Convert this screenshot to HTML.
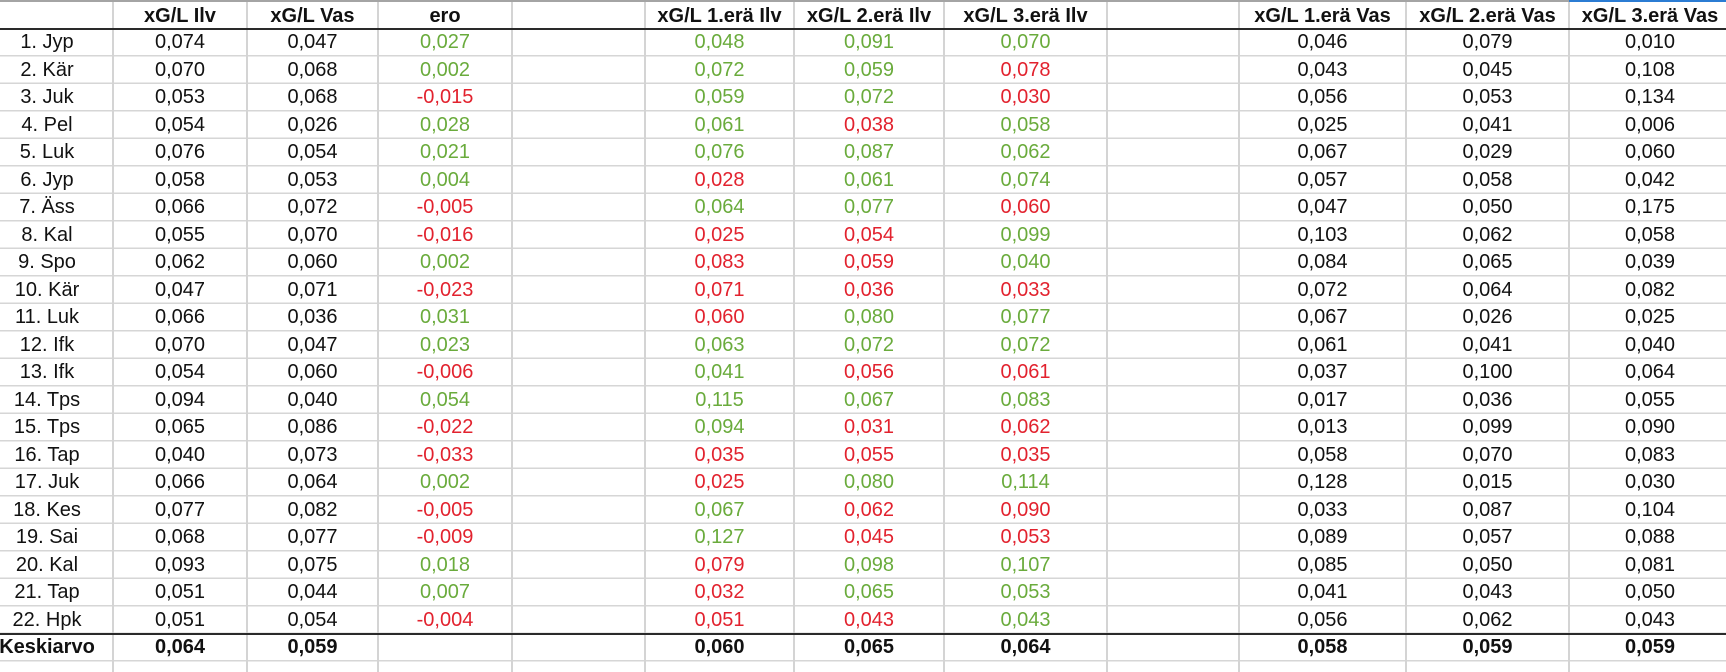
<!DOCTYPE html>
<html>
<head>
<meta charset="utf-8">
<style>
html,body{margin:0;padding:0;background:#fff;}
body{width:1726px;height:672px;overflow:hidden;position:relative;font-family:"Liberation Sans",Arial,sans-serif;color:#111;}
.hl{position:absolute;left:0;top:29px;width:1726px;height:643px;background:repeating-linear-gradient(180deg,transparent 0,transparent 25.8px,#d6d6d6 25.8px,#d6d6d6 27.5px);}
.vl{position:absolute;top:0;width:2px;height:672px;background:#d4d4d4;}
.thick{position:absolute;left:0;width:1726px;height:2px;background:#2a2a2a;}
.r{position:absolute;left:-19px;height:27.5px;display:flex;line-height:27.5px;font-size:20px;white-space:nowrap;}
.r>span{flex:none;text-align:center;overflow:visible;}
.r>span:nth-child(1){width:132px}
.r>span:nth-child(2){width:134px}
.r>span:nth-child(3){width:131px}
.r>span:nth-child(4){width:134px}
.r>span:nth-child(5){width:133px}
.r>span:nth-child(6){width:149px}
.r>span:nth-child(7){width:150px}
.r>span:nth-child(8){width:163px}
.r>span:nth-child(9){width:132px}
.r>span:nth-child(10){width:167px}
.r>span:nth-child(11){width:163px}
.r>span:nth-child(12){width:162px}
.h{font-weight:bold;line-height:26px;height:26px;}
.b{font-weight:bold;}
.g{color:#6aab3c;}
.x{color:#e2222e;}
</style>
</head>
<body>
<div class="hl"></div>
<div class="vl" style="left:112px"></div>
<div class="vl" style="left:246px"></div>
<div class="vl" style="left:377px"></div>
<div class="vl" style="left:511px"></div>
<div class="vl" style="left:644px"></div>
<div class="vl" style="left:793px"></div>
<div class="vl" style="left:943px"></div>
<div class="vl" style="left:1106px"></div>
<div class="vl" style="left:1238px"></div>
<div class="vl" style="left:1405px"></div>
<div class="vl" style="left:1568px"></div>
<div style="position:absolute;left:0;top:0;width:1726px;height:2px;background:#a4a4a4"></div>
<div style="position:absolute;left:1569px;top:0;width:157px;height:2px;background:#2b7cd3"></div>
<div class="thick" style="top:28px"></div>
<div class="thick" style="top:632.5px"></div>

<div class="r h" style="top:2.5px"><span></span><span>xG/L Ilv</span><span>xG/L Vas</span><span>ero</span><span></span><span>xG/L 1.erä Ilv</span><span>xG/L 2.erä Ilv</span><span>xG/L 3.erä Ilv</span><span></span><span>xG/L 1.erä Vas</span><span>xG/L 2.erä Vas</span><span>xG/L 3.erä Vas</span></div>

<div class="r" style="top:29px"><span>1. Jyp</span><span>0,074</span><span>0,047</span><span class="g">0,027</span><span></span><span class="g">0,048</span><span class="g">0,091</span><span class="g">0,070</span><span></span><span>0,046</span><span>0,079</span><span>0,010</span></div>
<div class="r" style="top:56.5px"><span>2. Kär</span><span>0,070</span><span>0,068</span><span class="g">0,002</span><span></span><span class="g">0,072</span><span class="g">0,059</span><span class="x">0,078</span><span></span><span>0,043</span><span>0,045</span><span>0,108</span></div>
<div class="r" style="top:84px"><span>3. Juk</span><span>0,053</span><span>0,068</span><span class="x">-0,015</span><span></span><span class="g">0,059</span><span class="g">0,072</span><span class="x">0,030</span><span></span><span>0,056</span><span>0,053</span><span>0,134</span></div>
<div class="r" style="top:111.5px"><span>4. Pel</span><span>0,054</span><span>0,026</span><span class="g">0,028</span><span></span><span class="g">0,061</span><span class="x">0,038</span><span class="g">0,058</span><span></span><span>0,025</span><span>0,041</span><span>0,006</span></div>
<div class="r" style="top:139px"><span>5. Luk</span><span>0,076</span><span>0,054</span><span class="g">0,021</span><span></span><span class="g">0,076</span><span class="g">0,087</span><span class="g">0,062</span><span></span><span>0,067</span><span>0,029</span><span>0,060</span></div>
<div class="r" style="top:166.5px"><span>6. Jyp</span><span>0,058</span><span>0,053</span><span class="g">0,004</span><span></span><span class="x">0,028</span><span class="g">0,061</span><span class="g">0,074</span><span></span><span>0,057</span><span>0,058</span><span>0,042</span></div>
<div class="r" style="top:194px"><span>7. Äss</span><span>0,066</span><span>0,072</span><span class="x">-0,005</span><span></span><span class="g">0,064</span><span class="g">0,077</span><span class="x">0,060</span><span></span><span>0,047</span><span>0,050</span><span>0,175</span></div>
<div class="r" style="top:221.5px"><span>8. Kal</span><span>0,055</span><span>0,070</span><span class="x">-0,016</span><span></span><span class="x">0,025</span><span class="x">0,054</span><span class="g">0,099</span><span></span><span>0,103</span><span>0,062</span><span>0,058</span></div>
<div class="r" style="top:249px"><span>9. Spo</span><span>0,062</span><span>0,060</span><span class="g">0,002</span><span></span><span class="x">0,083</span><span class="x">0,059</span><span class="g">0,040</span><span></span><span>0,084</span><span>0,065</span><span>0,039</span></div>
<div class="r" style="top:276.5px"><span>10. Kär</span><span>0,047</span><span>0,071</span><span class="x">-0,023</span><span></span><span class="x">0,071</span><span class="x">0,036</span><span class="x">0,033</span><span></span><span>0,072</span><span>0,064</span><span>0,082</span></div>
<div class="r" style="top:304px"><span>11. Luk</span><span>0,066</span><span>0,036</span><span class="g">0,031</span><span></span><span class="x">0,060</span><span class="g">0,080</span><span class="g">0,077</span><span></span><span>0,067</span><span>0,026</span><span>0,025</span></div>
<div class="r" style="top:331.5px"><span>12. Ifk</span><span>0,070</span><span>0,047</span><span class="g">0,023</span><span></span><span class="g">0,063</span><span class="g">0,072</span><span class="g">0,072</span><span></span><span>0,061</span><span>0,041</span><span>0,040</span></div>
<div class="r" style="top:359px"><span>13. Ifk</span><span>0,054</span><span>0,060</span><span class="x">-0,006</span><span></span><span class="g">0,041</span><span class="x">0,056</span><span class="x">0,061</span><span></span><span>0,037</span><span>0,100</span><span>0,064</span></div>
<div class="r" style="top:386.5px"><span>14. Tps</span><span>0,094</span><span>0,040</span><span class="g">0,054</span><span></span><span class="g">0,115</span><span class="g">0,067</span><span class="g">0,083</span><span></span><span>0,017</span><span>0,036</span><span>0,055</span></div>
<div class="r" style="top:414px"><span>15. Tps</span><span>0,065</span><span>0,086</span><span class="x">-0,022</span><span></span><span class="g">0,094</span><span class="x">0,031</span><span class="x">0,062</span><span></span><span>0,013</span><span>0,099</span><span>0,090</span></div>
<div class="r" style="top:441.5px"><span>16. Tap</span><span>0,040</span><span>0,073</span><span class="x">-0,033</span><span></span><span class="x">0,035</span><span class="x">0,055</span><span class="x">0,035</span><span></span><span>0,058</span><span>0,070</span><span>0,083</span></div>
<div class="r" style="top:469px"><span>17. Juk</span><span>0,066</span><span>0,064</span><span class="g">0,002</span><span></span><span class="x">0,025</span><span class="g">0,080</span><span class="g">0,114</span><span></span><span>0,128</span><span>0,015</span><span>0,030</span></div>
<div class="r" style="top:496.5px"><span>18. Kes</span><span>0,077</span><span>0,082</span><span class="x">-0,005</span><span></span><span class="g">0,067</span><span class="x">0,062</span><span class="x">0,090</span><span></span><span>0,033</span><span>0,087</span><span>0,104</span></div>
<div class="r" style="top:524px"><span>19. Sai</span><span>0,068</span><span>0,077</span><span class="x">-0,009</span><span></span><span class="g">0,127</span><span class="x">0,045</span><span class="x">0,053</span><span></span><span>0,089</span><span>0,057</span><span>0,088</span></div>
<div class="r" style="top:551.5px"><span>20. Kal</span><span>0,093</span><span>0,075</span><span class="g">0,018</span><span></span><span class="x">0,079</span><span class="g">0,098</span><span class="g">0,107</span><span></span><span>0,085</span><span>0,050</span><span>0,081</span></div>
<div class="r" style="top:579px"><span>21. Tap</span><span>0,051</span><span>0,044</span><span class="g">0,007</span><span></span><span class="x">0,032</span><span class="g">0,065</span><span class="g">0,053</span><span></span><span>0,041</span><span>0,043</span><span>0,050</span></div>
<div class="r" style="top:606.5px"><span>22. Hpk</span><span>0,051</span><span>0,054</span><span class="x">-0,004</span><span></span><span class="x">0,051</span><span class="x">0,043</span><span class="g">0,043</span><span></span><span>0,056</span><span>0,062</span><span>0,043</span></div>
<div class="r b" style="top:634px"><span>Keskiarvo</span><span>0,064</span><span>0,059</span><span></span><span></span><span>0,060</span><span>0,065</span><span>0,064</span><span></span><span>0,058</span><span>0,059</span><span>0,059</span></div>
</body>
</html>
